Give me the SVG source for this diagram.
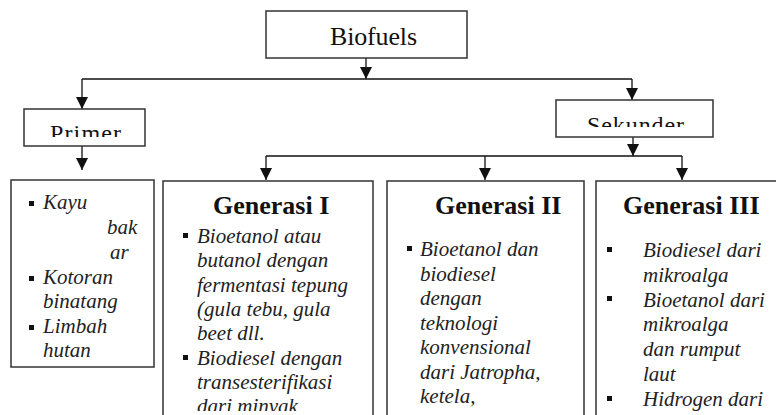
<svg xmlns="http://www.w3.org/2000/svg" width="776" height="415" viewBox="0 0 776 415" font-family="Liberation Serif, Times New Roman, DejaVu Serif, serif">
<style>
.box{fill:#fff;stroke:#333;stroke-width:1.5}
.ln{fill:none;stroke:#111;stroke-width:1.3}
.ttl{font-size:26px;fill:#111}
.hd{font-size:26px;font-weight:bold;fill:#111}
.it{font-size:21px;font-style:italic;fill:#222}
.bl{fill:#111}
</style>
<defs>
<marker id="ah" viewBox="0 0 12 12" refX="12" refY="6" markerWidth="12" markerHeight="12" markerUnits="userSpaceOnUse" orient="auto">
<path d="M0,0 L12,6 L0,12 Z" fill="#111"/>
</marker>
<clipPath id="cpP"><rect x="24" y="109" width="121" height="28"/></clipPath>
<clipPath id="cpS"><rect x="556" y="100" width="157" height="27"/></clipPath>
<clipPath id="cpB"><rect x="0" y="170" width="776" height="241"/></clipPath>
</defs>
<g id="connectors">
<path class="ln" d="M366,58 V79" marker-end="url(#ah)"/>
<path class="ln" d="M82,79 H632"/>
<path class="ln" d="M82,79 V109" marker-end="url(#ah)"/>
<path class="ln" d="M632,79 V100" marker-end="url(#ah)"/>
<path class="ln" d="M82,146 V170" marker-end="url(#ah)"/>
<path class="ln" d="M633,137 V156" marker-end="url(#ah)"/>
<path class="ln" d="M266,156 H682"/>
<path class="ln" d="M266,156 V180" marker-end="url(#ah)"/>
<path class="ln" d="M485,156 V180" marker-end="url(#ah)"/>
<path class="ln" d="M682,156 V180" marker-end="url(#ah)"/>
</g>
<g id="biofuels">
<rect class="box" x="266" y="11" width="201" height="47"/>
<text class="ttl" x="330" y="45" textLength="87">Biofuels</text>
</g>
<g id="primer">
<rect class="box" x="24" y="109" width="121" height="37"/>
<text class="ttl" x="50" y="140.5" style="font-size:24px" textLength="71" clip-path="url(#cpP)">Primer</text>
</g>
<g id="sekunder">
<rect class="box" x="556" y="100" width="157" height="37"/>
<text class="ttl" x="587" y="132.5" style="font-size:24px" textLength="97" clip-path="url(#cpS)">Sekunder</text>
</g>
<g id="primer-list">
<rect class="box" x="11" y="180" width="143" height="187"/>
<rect class="bl" x="29" y="201" width="5" height="5"/>
<rect class="bl" x="29" y="276" width="5" height="5"/>
<rect class="bl" x="29" y="325" width="5" height="5"/>
<text class="it" x="43" y="209">Kayu</text>
<text class="it" x="107" y="234">bak</text>
<text class="it" x="110" y="259">ar</text>
<text class="it" x="43" y="284">Kotoran</text>
<text class="it" x="43" y="308">binatang</text>
<text class="it" x="43" y="333">Limbah</text>
<text class="it" x="43" y="357">hutan</text>
</g>
<g id="generasi-1">
<rect class="box" x="163" y="181" width="210" height="240"/>
<text class="hd" x="213" y="214">Generasi I</text>
<rect class="bl" x="183" y="233" width="5" height="5"/>
<rect class="bl" x="183" y="355" width="5" height="5"/>
<g clip-path="url(#cpB)">
<text class="it" x="197" y="243">Bioetanol atau</text>
<text class="it" x="197" y="267.3">butanol dengan</text>
<text class="it" x="197" y="291.6">fermentasi tepung</text>
<text class="it" x="197" y="315.9">(gula tebu, gula</text>
<text class="it" x="197" y="340.2">beet dll.</text>
<text class="it" x="197" y="364.5">Biodiesel dengan</text>
<text class="it" x="197" y="388.8">transesterifikasi</text>
<text class="it" x="197" y="413.1">dari minyak</text>
</g>
</g>
<g id="generasi-2">
<rect class="box" x="387" y="181" width="197" height="240"/>
<text class="hd" x="435" y="214">Generasi II</text>
<rect class="bl" x="407" y="246" width="5" height="5"/>
<g clip-path="url(#cpB)">
<text class="it" x="420" y="256">Bioetanol dan</text>
<text class="it" x="420" y="280.5">biodiesel</text>
<text class="it" x="420" y="305">dengan</text>
<text class="it" x="420" y="329.5">teknologi</text>
<text class="it" x="420" y="354">konvensional</text>
<text class="it" x="420" y="378.5">dari Jatropha,</text>
<text class="it" x="420" y="403">ketela,</text>
</g>
</g>
<g id="generasi-3">
<rect class="box" x="596" y="181" width="200" height="240"/>
<text class="hd" x="623" y="214">Generasi III</text>
<rect class="bl" x="607" y="247" width="5" height="5"/>
<rect class="bl" x="607" y="296" width="5" height="5"/>
<rect class="bl" x="607" y="396" width="5" height="5"/>
<g clip-path="url(#cpB)">
<text class="it" x="643" y="257">Biodiesel dari</text>
<text class="it" x="643" y="281.8">mikroalga</text>
<text class="it" x="643" y="306.6">Bioetanol dari</text>
<text class="it" x="643" y="331.4">mikroalga</text>
<text class="it" x="643" y="356.2">dan rumput</text>
<text class="it" x="643" y="381">laut</text>
<text class="it" x="643" y="405.8">Hidrogen dari</text>
</g>
</g>
</svg>
